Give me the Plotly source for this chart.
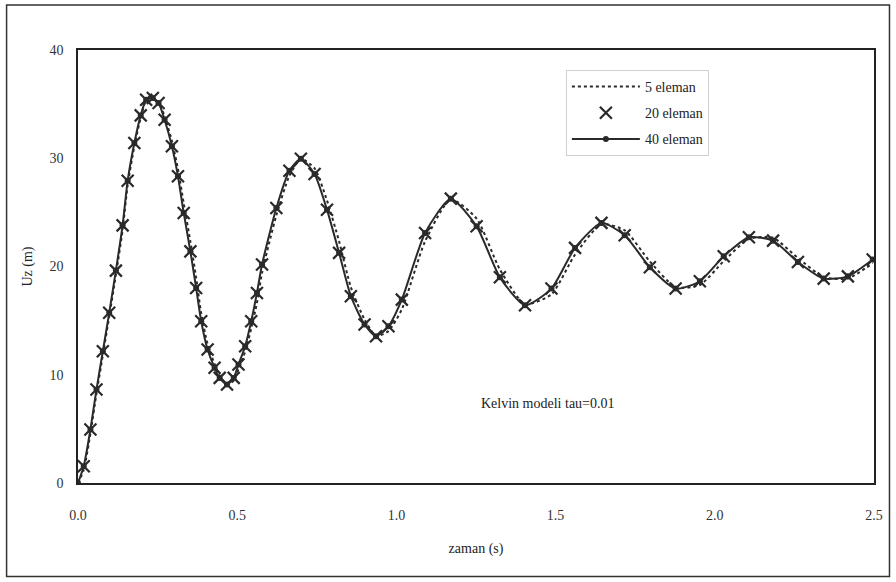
import plotly.graph_objects as go

# time points (s)
zaman = [0.0, 0.018, 0.039, 0.058, 0.078, 0.098, 0.119, 0.140, 0.156, 0.177, 0.197,
         0.214, 0.235, 0.253, 0.272, 0.295, 0.314, 0.332, 0.353, 0.371, 0.387,
         0.407, 0.429, 0.445, 0.468, 0.489, 0.504, 0.525, 0.544, 0.562, 0.578,
         0.623, 0.664, 0.700, 0.743, 0.782, 0.820, 0.857, 0.900, 0.936, 0.975,
         1.017, 1.090, 1.171, 1.252, 1.325, 1.404, 1.487, 1.561, 1.644, 1.717,
         1.796, 1.877, 1.953, 2.028, 2.107, 2.183, 2.261, 2.342, 2.418, 2.496]

uz_5 = [0.0, 1.20, 4.58, 8.26, 11.82, 15.36, 19.23, 23.35, 27.52, 31.12, 33.74,
        35.33, 35.59, 35.27, 33.85, 31.60, 28.99, 25.84, 22.29, 18.97, 15.66,
        12.83, 10.99, 9.91, 9.10, 9.46, 10.54, 12.13, 14.28, 16.64, 19.41,
        24.74, 28.38, 29.95, 29.07, 26.10, 22.32, 18.08, 15.10, 13.58, 14.03,
        16.04, 22.32, 26.21, 24.42, 19.72, 16.52, 17.43, 21.10, 23.91, 23.34,
        20.46, 18.10, 18.29, 20.50, 22.55, 22.65, 20.79, 19.02, 18.90, 20.30]

uz_20 = [None, 1.55, 4.94, 8.63, 12.17, 15.72, 19.62, 23.80, 27.93, 31.41, 33.96,
         35.41, 35.57, 35.11, 33.56, 31.10, 28.33, 24.95, 21.40, 18.02, 14.94,
         12.33, 10.64, 9.71, 9.10, 9.71, 10.94, 12.63, 14.94, 17.56, 20.18,
         25.41, 28.85, 29.96, 28.55, 25.25, 21.26, 17.25, 14.64, 13.56, 14.48,
         16.94, 23.10, 26.27, 23.71, 19.00, 16.42, 17.96, 21.72, 24.03, 22.88,
         19.93, 17.96, 18.63, 20.94, 22.70, 22.39, 20.42, 18.88, 19.09, 20.64]

uz_40 = [0.0, 1.55, 4.94, 8.63, 12.17, 15.72, 19.62, 23.80, 27.93, 31.41, 33.96,
         35.41, 35.57, 35.11, 33.56, 31.10, 28.33, 24.95, 21.40, 18.02, 14.94,
         12.33, 10.64, 9.71, 9.10, 9.71, 10.94, 12.63, 14.94, 17.56, 20.18,
         25.41, 28.85, 29.96, 28.55, 25.25, 21.26, 17.25, 14.64, 13.56, 14.48,
         16.94, 23.10, 26.27, 23.71, 19.00, 16.42, 17.96, 21.72, 24.03, 22.88,
         19.93, 17.96, 18.63, 20.94, 22.70, 22.39, 20.42, 18.88, 19.09, 20.64]

x_ticks = [0.0, 0.5, 1.0, 1.5, 2.0, 2.5]
x_tick_labels = ["0.0", "0.5", "1.0", "1.5", "2.0", "2.5"]
y_ticks = [0, 10, 20, 30, 40]

FONT = "Liberation Serif, Times New Roman, serif"
DARK = "#2a2a2a"

fig = go.Figure()
fig.add_trace(go.Scatter(
    x=zaman, y=uz_5, name="5 eleman", mode="lines", legendgroup="a",
    line=dict(color=DARK, width=2, dash="dot", shape="spline", smoothing=0.6),
))
fig.add_trace(go.Scatter(
    x=zaman, y=uz_20, name="20 eleman", mode="markers", legendgroup="b",
    marker=dict(symbol="x-thin-open", size=12, color=DARK,
                line=dict(color=DARK, width=2.2)),
))
fig.add_trace(go.Scatter(
    x=zaman, y=uz_40, name="40 eleman", mode="lines+markers", legendgroup="c",
    line=dict(color=DARK, width=2, shape="spline", smoothing=0.6),
    marker=dict(symbol="circle", size=6, color=DARK),
))

L, R, T, B = 77.5, 21.5, 50, 98.5
W, H = 896, 582
pw, ph = W - L - R, H - T - B

def px_to_paper_x(px):
    return (px - L) / pw

def py_to_paper_y(py):
    return (H - B - py) / ph

fig.add_shape(type="rect", xref="paper", yref="paper",
              x0=px_to_paper_x(6), x1=px_to_paper_x(890),
              y0=py_to_paper_y(577), y1=py_to_paper_y(5),
              line=dict(color="#333333", width=1.5), layer="below")

fig.add_annotation(text="Kelvin modeli tau=0.01", xref="paper", yref="paper",
                   x=px_to_paper_x(548), y=py_to_paper_y(404),
                   yanchor="middle", xanchor="center",
                   showarrow=False, font=dict(family=FONT, size=14, color="#222222"))

fig.update_layout(
    width=W, height=H,
    margin=dict(l=L, r=R, t=T, b=B, pad=0),
    paper_bgcolor="white", plot_bgcolor="white",
    font=dict(family=FONT, size=14, color="#333333"),
    showlegend=True,
    legend=dict(x=px_to_paper_x(566), y=py_to_paper_y(70), xanchor="left", yanchor="top",
                bgcolor="white", bordercolor="#d0d0d0", borderwidth=1,
                font=dict(family=FONT, size=14, color="#222222"),
                itemwidth=68, tracegroupgap=5),
    xaxis=dict(range=[0, 2.5], tickvals=x_ticks, ticktext=x_tick_labels,
               showgrid=False, zeroline=False, showline=True, mirror=True,
               linecolor="#222222", linewidth=1.5, ticks="",
               ticklabelstandoff=18,
               title=dict(text="zaman (s)", standoff=22,
                          font=dict(family=FONT, size=14, color="#222222"))),
    yaxis=dict(range=[0, 40], tickvals=y_ticks,
               showgrid=False, zeroline=False, showline=True, mirror=True,
               linecolor="#222222", linewidth=1.5, ticks="",
               ticklabelstandoff=10,
               title=dict(text="Uz (m)", standoff=14,
                          font=dict(family=FONT, size=14, color="#222222"))),
)

fig.write_html("out.html")
